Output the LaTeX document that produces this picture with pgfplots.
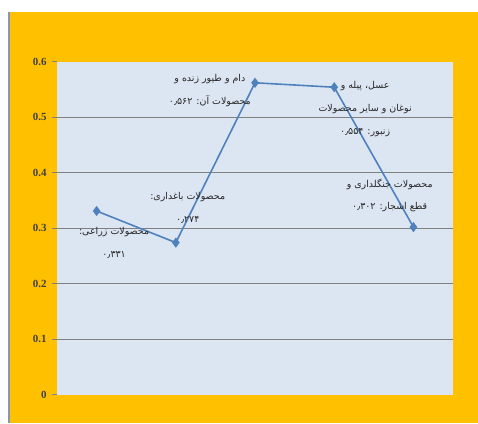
\documentclass[border=0pt]{standalone}
\usepackage{pgfplots}
\pgfplotsset{compat=1.18}
\usepackage{fontspec}
\setmainfont{Liberation Serif}
\newfontfamily\arabicfont[Script=Arabic]{DejaVu Sans}
\TeXXeTstate=1
\definecolor{frameorange}{HTML}{FFC000}
\definecolor{plotbg}{HTML}{DCE6F2}
\definecolor{seriesblue}{HTML}{4F81BD}
\definecolor{gridgray}{HTML}{808080}
\definecolor{edgegray}{HTML}{8A94B0}
\tikzset{lbl/.style={font=\arabicfont\fontsize{9.5}{23}\selectfont, align=center,
  text=black!85, inner sep=0pt}}
\begin{document}
\begin{tikzpicture}[x=1bp,y=1bp]
\useasboundingbox (0,0) rectangle (478,423);
\fill[white] (0,0) rectangle (478,423);
\fill[frameorange] (8,0) rectangle (478,411);
\draw[edgegray, line width=1.5bp] (8.75,0) -- (8.75,411);
\begin{axis}[
  at={(72,51)}, anchor=south west,
  scale only axis, width=396bp, height=333bp,
  xmin=0.5, xmax=5.5, ymin=0, ymax=0.6,
  axis line style={draw=none},
  axis background/.style={fill=plotbg},
  xtick=\empty,
  ytick={0.1,0.2,0.3,0.4,0.5},
  extra y ticks={0,0.6},
  extra tick style={grid=none},
  ymajorgrids,
  grid style={gridgray, line width=1.1bp},
  ytick pos=left, tick align=outside,
  major tick length=5bp,
  tick style={gridgray, line width=1bp},
  /pgf/number format/assume math mode=true,
  yticklabel style={font=\fontsize{11}{12}\selectfont\bfseries, text=black!75, xshift=-2bp,
    /pgf/number format/fixed, /pgf/number format/precision=1},
]
\addplot[seriesblue, line width=1.6bp, mark=diamond*, mark size=3.8,
  mark options={fill=seriesblue}]
  coordinates {(1,0.331) (2,0.274) (3,0.562) (4,0.554) (5,0.302)};

\node[lbl] at (axis cs:1.22,0.274)
  {\beginR محصولات زراعی:\endR\\\beginR \beginL۰٫۳۳۱\endL{}\endR};
\node[lbl] at (axis cs:2.15,0.337)
  {\beginR محصولات باغداری:\endR\\\beginR \beginL۰٫۲۷۴\endL{}\endR};
\node[lbl] at (axis cs:2.43,0.548)
  {\beginR دام و طیور زنده و\endR\\\beginR محصولات آن: \beginL۰٫۵۶۲\endL{}\endR};
\node[lbl] at (axis cs:4.39,0.514)
  {\beginR عسل، پیله و\endR\\\beginR نوغان و سایر محصولات\endR\\\beginR زنبور: \beginL۰٫۵۵۴\endL{}\endR};
\node[lbl] at (axis cs:4.70,0.359)
  {\beginR محصولات جنگلداری و\endR\\\beginR قطع اشجار: \beginL۰٫۳۰۲\endL{}\endR};
\end{axis}
\end{tikzpicture}
\end{document}
